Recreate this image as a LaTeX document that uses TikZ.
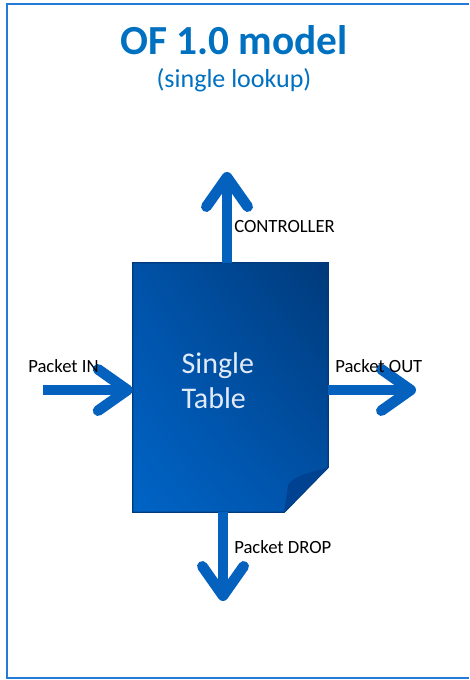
\documentclass[tikz,border=0pt]{standalone}
\usepackage{fontspec}
\setmainfont{Carlito}
\usetikzlibrary{arrows.meta,backgrounds,positioning,shadings}
\definecolor{ofblue}{RGB}{0,112,192}
\definecolor{flowblue}{RGB}{4,98,190}
\definecolor{framebl}{RGB}{36,122,214}
\definecolor{tbldark}{RGB}{0,58,122}
\definecolor{tbllight}{RGB}{0,100,198}
\definecolor{tblmid}{RGB}{0,82,168}
\definecolor{tblfold}{RGB}{0,66,146}
\tikzstyle{flow} = [draw=flowblue, line width=8pt, -{Straight Barb[length=22pt, width=31pt, round]}]
\tikzstyle{lbl} = [anchor=west, inner sep=0pt, font=\fontsize{14}{16}\selectfont]
\tikzstyle{tablebox} = [rectangle, minimum width=146.25pt, minimum height=186.75pt, inner sep=0pt]

\begin{document}
\begin{tikzpicture}[x=0.75pt, y=-0.75pt]

\useasboundingbox (0,0) rectangle (469,680);
\draw [framebl, line width=1.6pt] (469,4) -- (7,4) -- (7,678) -- (469,678);

\node [font=\fontsize{31}{36}\bfseries, text=ofblue] (title) at (234,40) {OF 1.0 model};
\node [font=\fontsize{19.5}{22}\selectfont, text=ofblue] (subtitle) at (234,80) {(single lookup)};

\node [tablebox] (tbl) at (230.5,387.5) {};
\node [align=left, anchor=west, text={rgb,255:red,225;green,234;blue,248}, font=\fontsize{22.5}{26.5}\selectfont] (tbltext) at (177,381) {Single\\Table};

\begin{scope}[on background layer]
\shadedraw [upper right=tbldark, lower left=tbllight, upper left=tblmid, lower right=tblmid, draw=tbldark, line width=1pt]
  (tbl.north west) -- (tbl.north east) -- ([yshift=33.75pt]tbl.south east)
  -- ([xshift=-33pt]tbl.south east) -- (tbl.south west) -- cycle;
\fill [tblfold] ([yshift=33.75pt]tbl.south east) .. controls ([xshift=-24pt,yshift=27pt]tbl.south east) .. ([xshift=-30pt,yshift=21pt]tbl.south east) -- ([xshift=-33pt]tbl.south east) -- cycle;
\end{scope}

\coordinate (ctrl) at (227,172);
\coordinate (pin) at (43,390);
\coordinate (pout) at (416,390);
\coordinate (pdrop) at (223,601);

\draw [flow] (tbl.north -| ctrl) -- (ctrl);
\draw [flow] (pin) -- (tbl.west |- pin);
\draw [flow] (tbl.east |- pout) -- (pout);
\draw [flow] (tbl.south -| pdrop) -- (pdrop);

\node [lbl] (ctrllbl) at (234,227) {CONTROLLER};
\node [lbl] (pinlbl) at (28,366) {Packet IN};
\node [lbl] (poutlbl) at (335,366) {Packet OUT};
\node [lbl] (pdroplbl) at (234,547) {Packet DROP};

\end{tikzpicture}
\end{document}
